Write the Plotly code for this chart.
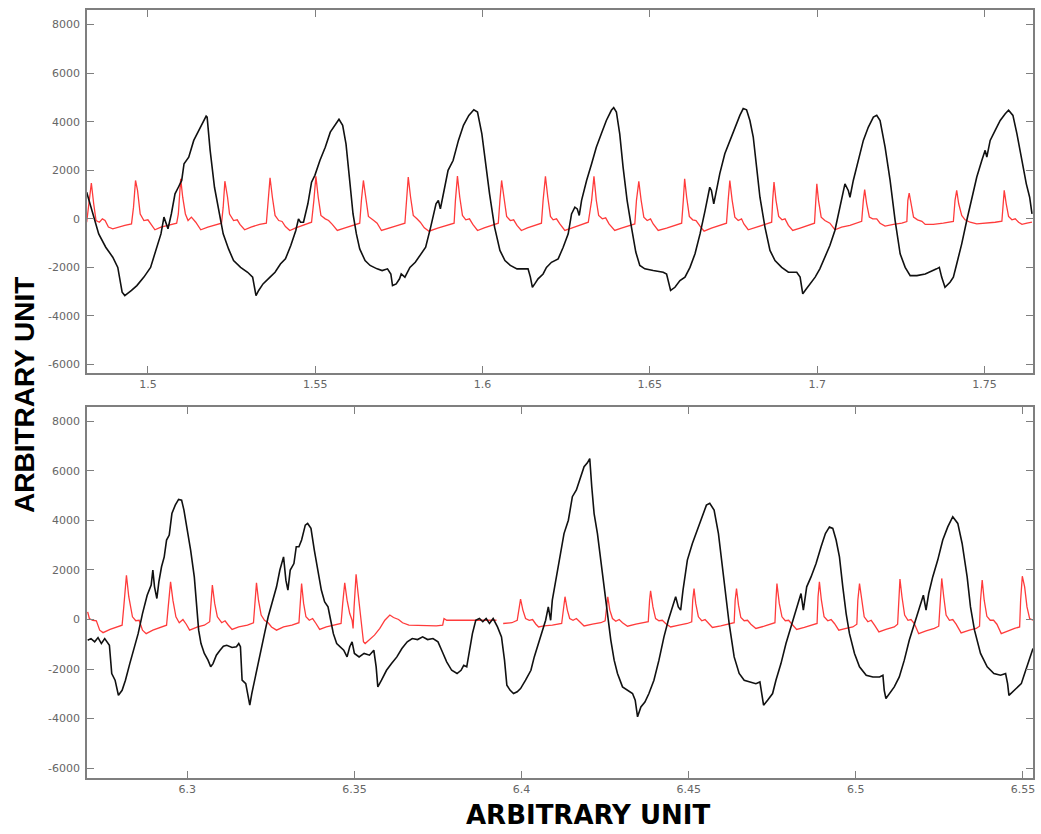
import plotly.graph_objects as go

# ---------------- data (time, amplitude) ----------------
TOP_BLACK = [
    (1.4817, 1100), (1.4824, 760), (1.4838, 0), (1.4853, -620), (1.4874, -1170), (1.4895, -1580),
    (1.4910, -2000), (1.4915, -2400), (1.4923, -3020), (1.4931, -3160), (1.4941, -3070), (1.4951, -2950),
    (1.4967, -2750), (1.4988, -2400), (1.5008, -2000), (1.5024, -1300), (1.5039, -620), (1.5048, 70),
    (1.5052, -70), (1.5060, -410), (1.5070, 200), (1.5081, 1030), (1.5091, 1300), (1.5101, 1580),
    (1.5108, 2270), (1.5122, 2540), (1.5137, 3230), (1.5153, 3640), (1.5168, 4050), (1.5174, 4230),
    (1.5177, 4190), (1.5186, 2820), (1.5199, 1300), (1.5215, 200), (1.5225, -620), (1.5241, -1240),
    (1.5256, -1720), (1.5277, -2000), (1.5298, -2200), (1.5313, -2400), (1.5318, -2890), (1.5323, -3160),
    (1.5331, -2950), (1.5344, -2680), (1.5365, -2400), (1.5380, -2200), (1.5396, -1860), (1.5411, -1650),
    (1.5427, -1100), (1.5442, -480), (1.5450, 0), (1.5456, -140), (1.5465, -140), (1.5478, 620),
    (1.5489, 1510), (1.5499, 1790), (1.5514, 2400), (1.5530, 2950), (1.5545, 3570), (1.5561, 3920),
    (1.5571, 4100), (1.5582, 3850), (1.5592, 3090), (1.5602, 1720), (1.5613, 200), (1.5623, -620),
    (1.5633, -1240), (1.5649, -1720), (1.5664, -1920), (1.5685, -2060), (1.5700, -2130), (1.5716, -2060),
    (1.5726, -2270), (1.5731, -2750), (1.5742, -2680), (1.5752, -2470), (1.5757, -2270), (1.5768, -2400),
    (1.5783, -2000), (1.5799, -1790), (1.5814, -1510), (1.5830, -1170), (1.5845, -340), (1.5861, 620),
    (1.5868, 760), (1.5874, 410), (1.5881, 890), (1.5897, 2000), (1.5912, 2400), (1.5928, 3230),
    (1.5943, 3850), (1.5959, 4260), (1.5974, 4490), (1.5985, 4400), (1.5998, 3500), (1.6010, 2130),
    (1.6021, 1030), (1.6036, -340), (1.6052, -1300), (1.6067, -1720), (1.6083, -1920), (1.6103, -2060),
    (1.6111, -2060), (1.6136, -2060), (1.6143, -2400), (1.6149, -2820), (1.6156, -2680), (1.6166, -2470),
    (1.6181, -2270), (1.6191, -2000), (1.6206, -1790), (1.6226, -1650), (1.6241, -1170), (1.6256, -620),
    (1.6266, 200), (1.6276, 480), (1.6283, 410), (1.6289, 140), (1.6296, 760), (1.6311, 1580),
    (1.6326, 2270), (1.6340, 2950), (1.6355, 3500), (1.6370, 4050), (1.6385, 4470), (1.6392, 4580),
    (1.6400, 4400), (1.6410, 3500), (1.6420, 2130), (1.6432, 760), (1.6445, -340), (1.6458, -1370),
    (1.6470, -1920), (1.6485, -2060), (1.6510, -2130), (1.6540, -2200), (1.6550, -2270), (1.6558, -2680),
    (1.6562, -2950), (1.6575, -2820), (1.6590, -2540), (1.6605, -2400), (1.6620, -2000), (1.6635, -1440),
    (1.6650, -620), (1.6665, 340), (1.6679, 1300), (1.6684, 1170), (1.6691, 620), (1.6697, 1030),
    (1.6709, 1860), (1.6724, 2680), (1.6739, 3230), (1.6754, 3780), (1.6769, 4260), (1.6779, 4540),
    (1.6789, 4490), (1.6799, 4050), (1.6809, 3370), (1.6819, 2130), (1.6829, 890), (1.6844, -340),
    (1.6859, -1300), (1.6874, -1720), (1.6894, -2000), (1.6914, -2200), (1.6939, -2200), (1.6949, -2400),
    (1.6957, -3090), (1.6964, -2950), (1.6979, -2680), (1.6994, -2400), (1.7008, -2060), (1.7023, -1580),
    (1.7038, -1100), (1.7053, -480), (1.7068, 480), (1.7083, 1440), (1.7093, 1170), (1.7098, 890),
    (1.7108, 1580), (1.7123, 2400), (1.7138, 3230), (1.7153, 3780), (1.7168, 4190), (1.7178, 4260),
    (1.7188, 4050), (1.7203, 2950), (1.7218, 1580), (1.7233, -70), (1.7248, -1440), (1.7263, -2000),
    (1.7278, -2340), (1.7298, -2340), (1.7323, -2270), (1.7357, -2060), (1.7365, -2000), (1.7372, -2400),
    (1.7382, -2820), (1.7397, -2610), (1.7407, -2400), (1.7417, -1860), (1.7432, -1030), (1.7447, -70),
    (1.7462, 890), (1.7477, 1720), (1.7492, 2400), (1.7502, 2820), (1.7507, 2540), (1.7517, 3230),
    (1.7532, 3640), (1.7547, 4050), (1.7562, 4330), (1.7572, 4470), (1.7585, 4260), (1.7597, 3500),
    (1.7612, 2400), (1.7625, 1440), (1.7635, 890), (1.7642, 200),
]

TOP_RED = [
    (1.4817, -140), (1.4824, 760), (1.4831, 1470), (1.4838, 620), (1.4845, -70), (1.4855, -140),
    (1.4864, 0), (1.4872, -70), (1.4882, -340), (1.4895, -410), (1.4910, -340), (1.4931, -270),
    (1.4951, -210), (1.4957, 480), (1.4963, 1580), (1.4969, 1170), (1.4977, 200), (1.4988, -70),
    (1.5000, -40), (1.5008, -210), (1.5021, -450), (1.5039, -340), (1.5060, -270), (1.5086, -180),
    (1.5091, 200), (1.5098, 1650), (1.5104, 890), (1.5112, 200), (1.5120, -70), (1.5130, 70),
    (1.5143, -140), (1.5158, -450), (1.5179, -340), (1.5199, -270), (1.5220, -180), (1.5225, 480),
    (1.5230, 1550), (1.5238, 890), (1.5244, 200), (1.5256, -70), (1.5267, -40), (1.5275, -230),
    (1.5289, -450), (1.5308, -340), (1.5334, -230), (1.5354, -180), (1.5360, 1030), (1.5365, 1690),
    (1.5372, 890), (1.5380, 140), (1.5391, -70), (1.5401, -110), (1.5411, -320), (1.5424, -480),
    (1.5442, -370), (1.5463, -270), (1.5489, -140), (1.5496, 760), (1.5502, 1750), (1.5509, 890),
    (1.5517, 140), (1.5530, 0), (1.5540, -70), (1.5551, -230), (1.5566, -480), (1.5587, -380),
    (1.5613, -270), (1.5633, -180), (1.5638, 760), (1.5644, 1580), (1.5651, 890), (1.5659, 100),
    (1.5675, -70), (1.5685, -180), (1.5698, -480), (1.5721, -370), (1.5747, -270), (1.5768, -180),
    (1.5773, 890), (1.5778, 1720), (1.5785, 890), (1.5793, 140), (1.5804, 0), (1.5814, -140),
    (1.5826, -370), (1.5840, -510), (1.5866, -380), (1.5892, -270), (1.5915, -180), (1.5919, 760),
    (1.5925, 1760), (1.5932, 890), (1.5940, 140), (1.5950, -40), (1.5961, 0), (1.5971, -230),
    (1.5985, -480), (1.6005, -370), (1.6026, -270), (1.6047, -180), (1.6052, 760), (1.6057, 1580),
    (1.6064, 890), (1.6072, 100), (1.6083, -70), (1.6093, -40), (1.6103, -270), (1.6116, -480),
    (1.6134, -370), (1.6155, -270), (1.6174, -210), (1.6176, -180), (1.6181, 760), (1.6188, 1750),
    (1.6195, 890), (1.6203, 100), (1.6211, -40), (1.6221, 0), (1.6231, -210), (1.6246, -480),
    (1.6266, -380), (1.6291, -270), (1.6316, -140), (1.6326, 760), (1.6333, 1750), (1.6340, 760),
    (1.6347, 140), (1.6358, 0), (1.6368, 40), (1.6378, -210), (1.6395, -480), (1.6415, -380),
    (1.6435, -300), (1.6455, -210), (1.6460, 760), (1.6467, 1540), (1.6474, 760), (1.6482, 70),
    (1.6492, -70), (1.6502, 0), (1.6510, -210), (1.6525, -480), (1.6550, -380), (1.6575, -270),
    (1.6595, -180), (1.6600, 760), (1.6604, 1650), (1.6610, 890), (1.6618, 100), (1.6628, -40),
    (1.6638, -70), (1.6650, -300), (1.6662, -510), (1.6684, -380), (1.6709, -270), (1.6729, -180),
    (1.6734, 760), (1.6739, 1580), (1.6746, 760), (1.6754, 70), (1.6764, -70), (1.6774, 0),
    (1.6781, -210), (1.6794, -450), (1.6819, -340), (1.6844, -230), (1.6864, -140), (1.6867, 760),
    (1.6871, 1510), (1.6877, 760), (1.6885, 100), (1.6895, -40), (1.6904, 0), (1.6914, -270),
    (1.6927, -480), (1.6949, -380), (1.6974, -270), (1.6992, -180), (1.6996, 760), (1.6999, 1440),
    (1.7004, 760), (1.7012, 70), (1.7023, -70), (1.7038, -180), (1.7053, -450), (1.7073, -340),
    (1.7098, -270), (1.7118, -180), (1.7133, -100), (1.7138, 760), (1.7142, 1200), (1.7148, 620),
    (1.7156, 70), (1.7166, 0), (1.7178, 0), (1.7188, -180), (1.7203, -300), (1.7228, -230),
    (1.7253, -180), (1.7268, -110), (1.7271, 760), (1.7275, 1060), (1.7281, 620), (1.7288, 70),
    (1.7300, -40), (1.7313, -100), (1.7323, -230), (1.7347, -230), (1.7377, -180), (1.7407, -110),
    (1.7412, 760), (1.7417, 1170), (1.7423, 620), (1.7432, 140), (1.7442, -40), (1.7457, -140),
    (1.7477, -210), (1.7507, -180), (1.7532, -140), (1.7552, -100), (1.7555, 620), (1.7559, 1170),
    (1.7565, 620), (1.7572, 100), (1.7582, -40), (1.7592, 0), (1.7602, -140), (1.7612, -230),
    (1.7627, -180), (1.7642, -140),
]

BOTTOM_BLACK = [
    (6.2702, -835), (6.2712, -770), (6.2723, -900), (6.2733, -730), (6.2743, -970), (6.2753, -770),
    (6.2767, -1040), (6.2774, -2180), (6.2784, -2450), (6.2794, -3060), (6.2805, -2860), (6.2815, -2450),
    (6.2828, -1780), (6.2841, -1170), (6.2853, -570), (6.2866, 240), (6.2880, 980), (6.2892, 1390),
    (6.2897, 2000), (6.2902, 1320), (6.2909, 850), (6.2915, 1520), (6.2923, 2130), (6.2931, 2530),
    (6.2938, 3210), (6.2946, 3410), (6.2954, 4280), (6.2964, 4620), (6.2974, 4850), (6.2983, 4820),
    (6.2990, 4420), (6.3000, 3610), (6.3010, 2800), (6.3021, 1720), (6.3028, 650), (6.3034, -430),
    (6.3041, -970), (6.3051, -1370), (6.3062, -1640), (6.3070, -1910), (6.3077, -1780), (6.3087, -1440),
    (6.3098, -1240), (6.3108, -1080), (6.3118, -1040), (6.3134, -1130), (6.3147, -1100), (6.3154, -970),
    (6.3159, -1100), (6.3164, -2450), (6.3175, -2590), (6.3182, -3060), (6.3187, -3460), (6.3193, -2990),
    (6.3200, -2520), (6.3211, -1780), (6.3221, -1240), (6.3231, -570), (6.3242, 110), (6.3254, 650),
    (6.3267, 1320), (6.3277, 2000), (6.3288, 2530), (6.3295, 1590), (6.3301, 1190), (6.3308, 2000),
    (6.3319, 2260), (6.3326, 2940), (6.3334, 2940), (6.3342, 3210), (6.3353, 3810), (6.3360, 3880),
    (6.3370, 3680), (6.3380, 2800), (6.3391, 1860), (6.3401, 1190), (6.3411, 710), (6.3421, 510),
    (6.3429, -30), (6.3437, -570), (6.3447, -970), (6.3457, -1100), (6.3468, -1240), (6.3478, -1510),
    (6.3486, -1100), (6.3493, -900), (6.3500, -1370), (6.3514, -1510), (6.3529, -1370), (6.3545, -1440),
    (6.3558, -1240), (6.3565, -1910), (6.3570, -2720), (6.3581, -2450), (6.3596, -2050), (6.3611, -1780),
    (6.3627, -1510), (6.3642, -1170), (6.3658, -900), (6.3673, -770), (6.3689, -810), (6.3704, -700),
    (6.3719, -810), (6.3735, -770), (6.3750, -900), (6.3761, -1240), (6.3776, -1710), (6.3791, -2050),
    (6.3807, -2180), (6.3819, -2050), (6.3827, -1850), (6.3836, -1910), (6.3843, -1370), (6.3853, -570),
    (6.3863, -30), (6.3874, 40), (6.3884, -90), (6.3894, 40), (6.3904, -160), (6.3915, 40),
    (6.3928, -300), (6.3940, -700), (6.3949, -1640), (6.3956, -2650), (6.3966, -2860), (6.3976, -2990),
    (6.3987, -2920), (6.3997, -2790), (6.4012, -2450), (6.4028, -2050), (6.4038, -1510), (6.4051, -970),
    (6.4060, -570), (6.4072, -30), (6.4080, 510), (6.4087, -30), (6.4092, 780), (6.4104, 1720),
    (6.4117, 2670), (6.4127, 3470), (6.4140, 4010), (6.4152, 4960), (6.4164, 5230), (6.4177, 5760),
    (6.4187, 6170), (6.4197, 6330), (6.4204, 6500), (6.4210, 5360), (6.4217, 4280), (6.4227, 3470),
    (6.4237, 2400), (6.4247, 1320), (6.4257, 110), (6.4267, -830), (6.4277, -1640), (6.4287, -2180),
    (6.4302, -2720), (6.4317, -2860), (6.4332, -2990), (6.4340, -3260), (6.4347, -3930), (6.4357, -3530),
    (6.4369, -3330), (6.4381, -2990), (6.4396, -2450), (6.4411, -1640), (6.4426, -700), (6.4439, -30),
    (6.4451, 510), (6.4461, 920), (6.4469, 510), (6.4476, 380), (6.4483, 1190), (6.4496, 2400),
    (6.4511, 3070), (6.4526, 3610), (6.4541, 4150), (6.4553, 4620), (6.4563, 4690), (6.4576, 4420),
    (6.4589, 3470), (6.4601, 2130), (6.4611, 920), (6.4621, -160), (6.4636, -1510), (6.4651, -2180),
    (6.4666, -2450), (6.4681, -2520), (6.4701, -2590), (6.4713, -2520), (6.4719, -2990), (6.4724, -3460),
    (6.4736, -3260), (6.4751, -2990), (6.4761, -2450), (6.4776, -1780), (6.4791, -970), (6.4806, -300),
    (6.4821, 380), (6.4836, 1050), (6.4843, 380), (6.4853, 1320), (6.4866, 1720), (6.4881, 2260),
    (6.4896, 2940), (6.4909, 3470), (6.4921, 3740), (6.4931, 3680), (6.4941, 3210), (6.4951, 2530),
    (6.4961, 1320), (6.4971, 240), (6.4981, -570), (6.4996, -1370), (6.5011, -1910), (6.5031, -2250),
    (6.5051, -2320), (6.5071, -2320), (6.5081, -2250), (6.5085, -2860), (6.5090, -3190), (6.5100, -2990),
    (6.5115, -2720), (6.5130, -2320), (6.5145, -1640), (6.5160, -830), (6.5175, -160), (6.5190, 510),
    (6.5202, 980), (6.5210, 380), (6.5218, 1050), (6.5230, 1720), (6.5245, 2400), (6.5260, 3210),
    (6.5275, 3740), (6.5290, 4150), (6.5305, 3880), (6.5318, 3070), (6.5333, 1720), (6.5343, 510),
    (6.5355, -430), (6.5373, -1370), (6.5393, -1910), (6.5413, -2180), (6.5433, -2250), (6.5448, -2180),
    (6.5454, -2590), (6.5458, -3060), (6.5470, -2920), (6.5485, -2720), (6.5495, -2590), (6.5505, -2180),
    (6.5515, -1780), (6.5525, -1370), (6.5530, -1170),
]

BOTTOM_RED = [
    (6.2702, 310), (6.2707, 40), (6.2717, -30), (6.2728, -50), (6.2738, -430), (6.2748, -530),
    (6.2769, -400), (6.2789, -300), (6.2805, -230), (6.2810, 510), (6.2818, 1790), (6.2825, 920),
    (6.2836, 110), (6.2846, -50), (6.2856, -30), (6.2866, -430), (6.2877, -570), (6.2897, -430),
    (6.2918, -340), (6.2938, -230), (6.2943, 510), (6.2950, 1520), (6.2957, 780), (6.2966, 110),
    (6.2976, -130), (6.2987, 0), (6.2997, -190), (6.3007, -430), (6.3031, -300), (6.3051, -230),
    (6.3067, -90), (6.3071, 650), (6.3075, 1390), (6.3082, 650), (6.3090, 110), (6.3103, -130),
    (6.3113, -50), (6.3123, -230), (6.3134, -400), (6.3154, -300), (6.3180, -230), (6.3198, -130),
    (6.3202, 780), (6.3207, 1480), (6.3213, 780), (6.3221, 180), (6.3231, -30), (6.3242, -130),
    (6.3252, -300), (6.3267, -430), (6.3288, -300), (6.3313, -230), (6.3334, -130), (6.3337, 650),
    (6.3342, 1450), (6.3348, 650), (6.3355, 110), (6.3365, -30), (6.3375, 40), (6.3385, -160),
    (6.3396, -400), (6.3416, -300), (6.3442, -230), (6.3460, -160), (6.3465, 650), (6.3471, 1480),
    (6.3478, 780), (6.3486, 240), (6.3493, -30), (6.3496, -360), (6.3499, 510), (6.3505, 1830),
    (6.3511, 1050), (6.3519, -30), (6.3527, -900), (6.3532, -970), (6.3545, -830), (6.3560, -630),
    (6.3576, -360), (6.3591, -30), (6.3606, 180), (6.3617, 80), (6.3632, 0), (6.3644, -130),
    (6.3663, -230), (6.3704, -260), (6.3745, -260), (6.3764, -230), (6.3768, 40), (6.3776, -30),
    (6.3807, -30), (6.3863, -30), (6.3925, -30), (6.3935, None), (6.3945, -160), (6.3971, -130),
    (6.3987, -30), (6.3992, 510), (6.3997, 820), (6.4004, 380), (6.4012, 40), (6.4023, -30),
    (6.4033, 0), (6.4043, -190), (6.4051, -300), (6.4067, -260), (6.4092, -230), (6.4120, -160),
    (6.4125, 510), (6.4130, 920), (6.4137, 380), (6.4144, 40), (6.4154, -30), (6.4164, 40),
    (6.4174, -90), (6.4187, -260), (6.4212, -190), (6.4237, -130), (6.4250, -50), (6.4254, 510),
    (6.4258, 920), (6.4264, 380), (6.4272, 40), (6.4282, -70), (6.4292, 0), (6.4302, -130),
    (6.4317, -270), (6.4342, -190), (6.4366, -130), (6.4379, -90), (6.4383, 780), (6.4386, 1160),
    (6.4393, 510), (6.4401, 40), (6.4411, -50), (6.4421, -30), (6.4431, -160), (6.4446, -300),
    (6.4471, -230), (6.4496, -160), (6.4509, -90), (6.4512, 780), (6.4516, 1250), (6.4521, 650),
    (6.4529, 110), (6.4539, -50), (6.4549, 0), (6.4559, -130), (6.4571, -320), (6.4596, -260),
    (6.4621, -190), (6.4636, -130), (6.4639, 780), (6.4643, 1250), (6.4649, 580), (6.4656, 80),
    (6.4666, -50), (6.4676, -30), (6.4686, -190), (6.4701, -360), (6.4726, -270), (6.4746, -190),
    (6.4758, -130), (6.4761, 780), (6.4764, 1450), (6.4771, 650), (6.4779, 110), (6.4789, -50),
    (6.4799, -30), (6.4809, -190), (6.4823, -400), (6.4846, -320), (6.4871, -230), (6.4884, -160),
    (6.4887, 920), (6.4891, 1520), (6.4897, 780), (6.4905, 110), (6.4916, -50), (6.4926, 0),
    (6.4936, -160), (6.4949, -430), (6.4971, -360), (6.4991, -300), (6.5003, -190), (6.5006, 780),
    (6.5011, 1450), (6.5017, 780), (6.5025, 110), (6.5036, -90), (6.5046, -30), (6.5056, -230),
    (6.5069, -500), (6.5090, -400), (6.5115, -300), (6.5125, -190), (6.5128, 780), (6.5132, 1630),
    (6.5138, 920), (6.5146, 180), (6.5156, -30), (6.5165, 0), (6.5175, -160), (6.5188, -570),
    (6.5210, -460), (6.5235, -360), (6.5248, -270), (6.5252, 780), (6.5257, 1660), (6.5263, 920),
    (6.5270, 180), (6.5280, -30), (6.5290, 0), (6.5300, -190), (6.5315, -540), (6.5340, -430),
    (6.5360, -360), (6.5370, -270), (6.5373, 780), (6.5378, 1590), (6.5384, 780), (6.5392, 130),
    (6.5402, -30), (6.5412, -30), (6.5422, -190), (6.5435, -570), (6.5455, -460), (6.5475, -360),
    (6.5490, -300), (6.5493, 780), (6.5498, 1750), (6.5505, 1320), (6.5512, 510), (6.5520, 40),
    (6.5530, -30),
]

Y_TICKS = [-6000, -4000, -2000, 0, 2000, 4000, 6000, 8000]
Y_LABELS = ["-6000", "-4000", "-2000", "0", "2000", "4000", "6000", "8000"]
TOP_X_TICKS = [1.5, 1.55, 1.6, 1.65, 1.7, 1.75]
TOP_X_LABELS = ["1.5", "1.55", "1.6", "1.65", "1.7", "1.75"]
BOTTOM_X_TICKS = [6.3, 6.35, 6.4, 6.45, 6.5, 6.55]
BOTTOM_X_LABELS = ["6.3", "6.35", "6.4", "6.45", "6.5", "6.55"]
AXIS_TITLE = "ARBITRARY UNIT"


def split(pairs):
    return [p[0] for p in pairs], [p[1] for p in pairs]


RED = "#ff3b3b"
BLACK = "#111111"

fig = go.Figure()
for pairs, color, width, xa, ya in [
    (TOP_RED, RED, 1.3, "x", "y"),
    (TOP_BLACK, BLACK, 1.6, "x", "y"),
    (BOTTOM_RED, RED, 1.3, "x2", "y2"),
    (BOTTOM_BLACK, BLACK, 1.6, "x2", "y2"),
]:
    xs, ys = split(pairs)
    fig.add_trace(go.Scatter(x=xs, y=ys, mode="lines", line=dict(color=color, width=width),
                             xaxis=xa, yaxis=ya, showlegend=False, connectgaps=False,
                             hoverinfo="skip"))

axis_common = dict(showline=True, linecolor="#7f7f7f", linewidth=1.6, mirror="ticks",
                   ticks="inside", ticklen=7, tickwidth=1.4, tickcolor="#7f7f7f",
                   showgrid=False, zeroline=False, automargin=False,
                   tickfont=dict(family="DejaVu Sans, sans-serif", size=11, color="#666666"))

fig.update_layout(
    width=1041, height=834,
    margin=dict(l=87, r=8, t=10, b=56),
    paper_bgcolor="white", plot_bgcolor="white",
    xaxis=dict(domain=[0, 1], anchor="y", range=[1.4818, 1.7645],
               tickvals=TOP_X_TICKS, ticktext=TOP_X_LABELS, **axis_common),
    yaxis=dict(domain=[0.527, 1], anchor="x", range=[-6360, 8600],
               tickvals=Y_TICKS, ticktext=Y_LABELS, ticklabelstandoff=3, **axis_common),
    xaxis2=dict(domain=[0, 1], anchor="y2", range=[6.2700, 6.5530],
                tickvals=BOTTOM_X_TICKS, ticktext=BOTTOM_X_LABELS, **axis_common),
    yaxis2=dict(domain=[0, 0.483], anchor="x2", range=[-6400, 8580],
                tickvals=Y_TICKS, ticktext=Y_LABELS, ticklabelstandoff=3, **axis_common),
    annotations=[
        dict(text="<b>" + AXIS_TITLE + "</b>", xref="paper", yref="paper", x=0.5296, y=0,
             xanchor="center", yanchor="middle", yshift=-37, showarrow=False,
             font=dict(family="DejaVu Sans, sans-serif", size=26, color="black")),
        dict(text="<b>" + AXIS_TITLE + "</b>", xref="paper", yref="paper", x=-0.0655, y=0.4987,
             xanchor="center", yanchor="middle", textangle=-90, showarrow=False,
             font=dict(family="Liberation Sans, Arial, sans-serif", size=28, color="black")),
    ],
)

# remove the browser's default page margin so the 1041x834 figure fills the window exactly
fig.write_html("out.html",
               config={"displayModeBar": False},
               post_script="document.body.style.margin='0px';document.body.style.overflow='hidden';")
